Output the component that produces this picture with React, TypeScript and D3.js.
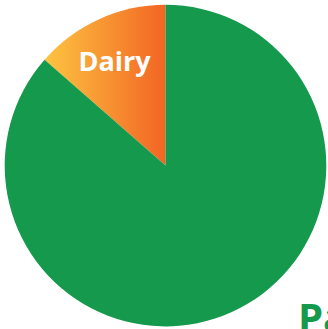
import React from "react";
import * as d3 from "d3";

const categories = ["Dairy", "Pasture"];
const values = [13.55, 86.45];
const colors = ["url(#dairyGrad)", "#15994c"];

const W = 328;
const H = 329;
const cx = 165.5;
const cy = 165.6;
const R = 160.8;

export default function App() {
  const pie = d3
    .pie<number>()
    .sort(null)
    .startAngle(0)
    .endAngle(-2 * Math.PI)(values);
  const arc = d3.arc<d3.PieArcDatum<number>>().innerRadius(0).outerRadius(R);
  return (
    <svg
      width={W}
      height={H}
      style={{ position: "absolute", left: 0, top: 0 }}
    >
      <defs>
        <linearGradient id="dairyGrad" x1="0" y1="0" x2="1" y2="0">
          <stop offset="0%" stopColor="#fdc441" />
          <stop offset="100%" stopColor="#f26524" />
        </linearGradient>
      </defs>
      <g transform={`translate(${cx},${cy})`}>
        {pie.map((d, i) => (
          <path key={categories[i]} d={arc(d) || ""} fill={colors[i]} />
        ))}
      </g>
      <text
        x={114.5}
        y={71}
        textAnchor="middle"
        fill="#ffffff"
        fontFamily="Open Sans, sans-serif"
        fontWeight={700}
        fontSize={27}
      >
        {categories[0]}
      </text>
      <text
        x={298}
        y={332}
        fill="#15994c"
        fontFamily="Open Sans, sans-serif"
        fontWeight={700}
        fontSize={40}
      >
        {categories[1]}
      </text>
    </svg>
  );
}
